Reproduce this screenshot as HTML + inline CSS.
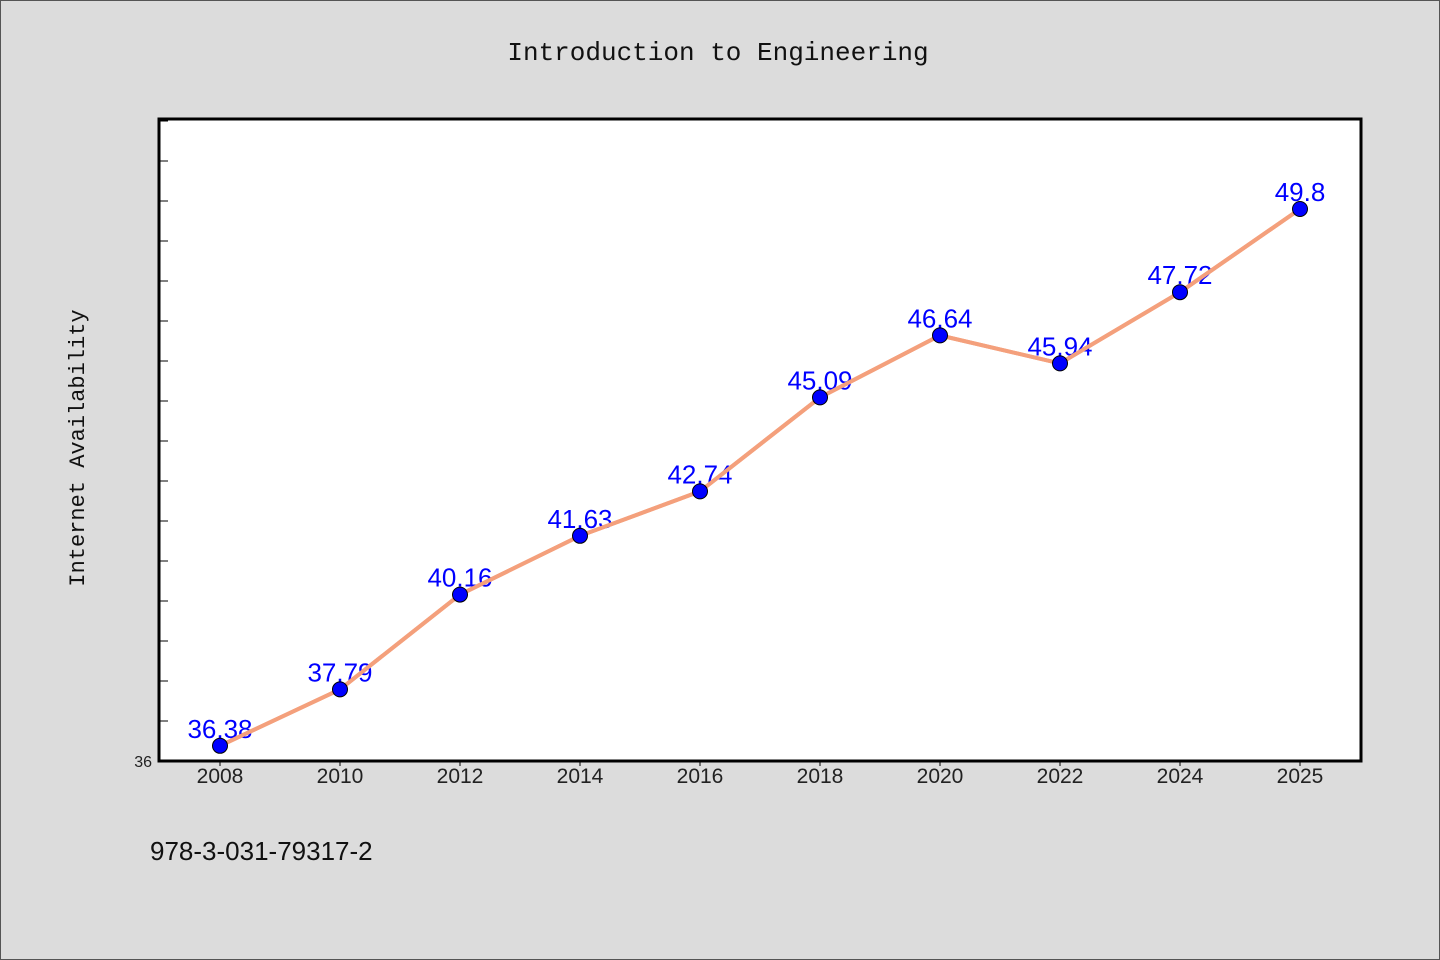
<!DOCTYPE html>
<html><head><meta charset="utf-8"><style>
body{margin:0;background:#dcdcdc;}
svg{display:block;font-family:"Liberation Sans","DejaVu Sans",sans-serif;}
</style></head><body>
<svg width="1440" height="960">
<rect x="0.5" y="0.5" width="1439" height="959" fill="#dcdcdc" stroke="#555"/>
<text x="718" y="60" text-anchor="middle" font-family="Liberation Mono, monospace" font-size="26" fill="#111">Introduction to Engineering</text>
<rect x="159" y="119" width="1202" height="642" fill="#fff" stroke="#000" stroke-width="3"/>
<text transform="translate(84,448) rotate(-90)" text-anchor="middle" font-family="Liberation Mono, monospace" font-size="22" fill="#111">Internet Availability</text>
<text x="150" y="860" font-size="26" fill="#111">978-3-031-79317-2</text>
<g id="ticks"></g><g id="marks"></g>
</svg>
<script>
const years=["2008","2010","2012","2014","2016","2018","2020","2022","2024","2025"];
const values=[36.38,37.79,40.16,41.63,42.74,45.09,46.64,45.94,47.72,49.8];
const yMin=36, yMax=52.05;
const ns="http://www.w3.org/2000/svg";
const L=159,R=1361,T=119,B=761;
const x=i=>L+61+i*(R-L-122)/(years.length-1);
const y=v=>B-(v-yMin)/(yMax-yMin)*(B-T);
function mk(t,a,p){const e=document.createElementNS(ns,t);for(const k in a)e.setAttribute(k,a[k]);p.appendChild(e);return e;}
const tg=document.getElementById('ticks'),mg=document.getElementById('marks');
for(let v=yMin+1;v<yMax;v++){
 const t=mk('line',{x1:L,x2:L+9,y1:y(v),y2:y(v),stroke:'#000','stroke-width':1},tg);
 
 
}
const yl=mk('text',{x:152,y:767,'text-anchor':'end','font-size':16,fill:'#222'},tg);yl.textContent=String(yMin);


years.forEach((yr,i)=>{
 const t=mk('line',{x1:x(i),x2:x(i),y1:B,y2:B+5,stroke:'#000'},tg);
 
 
 const l=mk('text',{x:x(i),y:783,'text-anchor':'middle','font-size':21,fill:'#222'},tg);l.textContent=yr;
 
 
});
const ln=mk('polyline',{points:values.map((v,i)=>x(i)+','+y(v)).join(' '),fill:'none',stroke:'#f4a07c','stroke-width':4},mg);


values.forEach((v,i)=>{
 const lb=mk('text',{x:x(i),y:y(v)-8,'text-anchor':'middle','font-size':26,fill:'#0000ff'},mg);lb.textContent=v;
 
 
});
mk('polyline',{points:values.map((v,i)=>x(i)+','+y(v)).join(' '),fill:'none',stroke:'#f4a07c','stroke-width':4},mg);
values.forEach((v,i)=>{
 const c=mk('circle',{cx:x(i),cy:y(v),r:7.5,fill:'#0000ff',stroke:'#000','stroke-width':1},mg);
 
 
});
</script>
</body></html>
